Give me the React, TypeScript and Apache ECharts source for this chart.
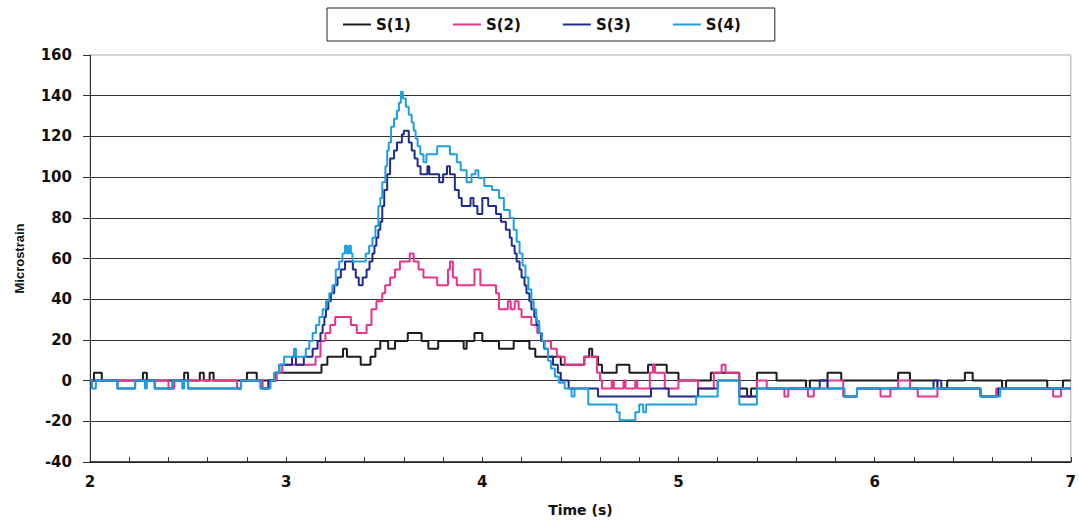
import React, { useEffect, useRef } from "react";
import * as echarts from "echarts";

// Time (s), microstrain — step readings
const S1: [number, number][] = [
  [2.0, 0], [2.02, 3.9], [2.06, 0], [2.27, 3.9], [2.29, 0], [2.48, 3.9], [2.5, 0], [2.56, 3.9], [2.58, 0],
  [2.61, 3.9], [2.63, 0], [2.8, 3.9], [2.85, 0], [2.95, 3.9], [3.18, 7.8], [3.21, 11.7], [3.29, 15.6],
  [3.31, 11.7], [3.38, 7.8], [3.43, 11.7], [3.455, 15.6], [3.48, 19.5], [3.52, 15.6], [3.555, 19.5],
  [3.62, 23.4], [3.69, 19.5], [3.725, 15.6], [3.775, 19.5], [3.905, 15.6], [3.92, 19.5], [3.96, 23.4],
  [4.0, 19.5], [4.085, 15.6], [4.16, 19.5], [4.24, 15.6], [4.27, 11.7], [4.4, 7.8], [4.52, 11.7],
  [4.545, 15.6], [4.56, 11.7], [4.59, 7.8], [4.61, 3.9], [4.685, 7.8], [4.75, 3.9], [4.845, 7.8],
  [4.94, 3.9], [5.0, 0], [5.165, 3.9], [5.31, -3.9], [5.35, -7.8], [5.37, -3.9], [5.4, 3.9], [5.5, 0],
  [5.65, -3.9], [5.67, 0], [5.76, 3.9], [5.83, 0], [6.12, 3.9], [6.18, 0], [6.32, -3.9], [6.37, 0],
  [6.46, 3.9], [6.5, 0], [6.65, -3.9], [6.67, 0], [6.88, -3.9], [6.96, 0], [7.0, 0],
];

const S2: [number, number][] = [
  [2.0, 0], [2.4, -3.9], [2.43, 0], [2.75, -3.9], [2.77, 0], [2.88, -3.9], [2.91, 0], [2.95, 3.9],
  [2.98, 7.8], [3.15, 11.7], [3.175, 19.5], [3.2, 23.4], [3.225, 27.3], [3.25, 31.2], [3.33, 27.3],
  [3.36, 23.4], [3.41, 27.3], [3.435, 35.1], [3.46, 39], [3.49, 42.9], [3.505, 46.8], [3.53, 50.7],
  [3.555, 54.6], [3.58, 58.5], [3.63, 62.4], [3.65, 58.5], [3.675, 54.6], [3.7, 50.7], [3.77, 46.8],
  [3.825, 54.6], [3.835, 58.5], [3.85, 50.7], [3.87, 46.8], [3.96, 54.6], [3.99, 46.8], [4.07, 42.9],
  [4.085, 35.1], [4.13, 39], [4.145, 35.1], [4.165, 39], [4.185, 35.1], [4.2, 31.2], [4.25, 27.3],
  [4.28, 23.4], [4.3, 19.5], [4.35, 15.6], [4.38, 11.7], [4.42, 7.8], [4.52, 11.7], [4.585, 3.9],
  [4.6, 0], [4.61, -3.9], [4.66, 0], [4.67, -3.9], [4.72, 0], [4.73, -3.9], [4.78, 0], [4.79, -3.9],
  [4.854, 3.9], [4.87, 7.8], [4.88, 3.9], [4.93, -3.9], [5.0, 0], [5.1, -3.9], [5.18, 3.9], [5.22, 7.8],
  [5.24, 3.9], [5.31, -7.8], [5.4, 0], [5.45, -3.9], [5.54, -7.8], [5.56, -3.9], [5.66, -7.8],
  [5.69, -3.9], [5.76, 0], [5.84, -7.8], [5.91, -3.9], [6.03, -7.8], [6.08, -3.9], [6.12, 0],
  [6.18, -3.9], [6.22, -7.8], [6.32, -3.9], [6.54, -7.8], [6.62, -3.9], [6.91, -7.8], [6.95, -3.9],
  [7.0, -3.9],
];

const S3: [number, number][] = [
  [2.0, 0], [2.14, -3.9], [2.23, 0], [2.33, -3.9], [2.42, 0], [2.5, -3.9], [2.77, 0], [2.87, -3.9],
  [2.91, 0], [2.94, 3.9], [2.965, 7.8], [3.03, 11.7], [3.05, 7.8], [3.09, 11.7], [3.135, 15.6],
  [3.16, 19.5], [3.175, 23.4], [3.186, 27.3], [3.195, 31.2], [3.203, 35.1], [3.215, 39], [3.228, 42.9],
  [3.245, 46.8], [3.262, 50.7], [3.279, 54.6], [3.3, 58.5], [3.34, 54.6], [3.355, 50.7], [3.37, 46.8],
  [3.39, 50.7], [3.41, 54.6], [3.425, 58.5], [3.44, 62.4], [3.45, 66.3], [3.46, 70.2], [3.47, 74.1],
  [3.48, 78], [3.49, 85.8], [3.5, 93.6], [3.515, 101.4], [3.53, 109.2], [3.55, 113.1], [3.565, 117],
  [3.59, 120.9], [3.6, 122.8], [3.625, 117], [3.64, 113.1], [3.655, 109.2], [3.67, 105.3],
  [3.685, 101.4], [3.72, 105.3], [3.73, 101.4], [3.78, 97.5], [3.8, 101.4], [3.82, 105.3],
  [3.835, 101.4], [3.86, 93.6], [3.88, 89.7], [3.895, 85.8], [3.94, 89.7], [3.955, 85.8],
  [3.975, 81.9], [4.0, 89.7], [4.03, 85.8], [4.07, 81.9], [4.095, 78], [4.12, 74.1], [4.14, 70.2],
  [4.15, 66.3], [4.165, 62.4], [4.175, 58.5], [4.19, 54.6], [4.2, 50.7], [4.215, 46.8], [4.225, 42.9],
  [4.24, 39], [4.25, 35.1], [4.265, 31.2], [4.276, 27.3], [4.29, 23.4], [4.3, 19.5], [4.315, 15.6],
  [4.335, 11.7], [4.36, 7.8], [4.385, 3.9], [4.4, 0], [4.44, -3.9], [4.59, -7.8], [4.86, -3.9],
  [4.95, -7.8], [5.1, -3.9], [5.2, 0], [5.31, -7.8], [5.4, -3.9], [5.72, 0], [5.76, -3.9],
  [5.845, -7.8], [5.91, -3.9], [6.3, 0], [6.34, -3.9], [6.54, -7.8], [6.63, -3.9], [7.0, -3.9],
];

const S4: [number, number][] = [
  [2.0, 0], [2.01, -3.9], [2.03, 0], [2.14, -3.9], [2.23, 0], [2.28, -3.9], [2.29, 0], [2.33, -3.9],
  [2.42, 0], [2.47, -3.9], [2.48, 0], [2.5, -3.9], [2.77, 0], [2.87, -3.9], [2.92, 0], [2.94, 3.9],
  [2.965, 7.8], [2.99, 11.7], [3.04, 15.6], [3.05, 11.7], [3.1, 15.6], [3.118, 19.5], [3.135, 23.4],
  [3.152, 27.3], [3.169, 31.2], [3.186, 35.1], [3.203, 39], [3.22, 42.9], [3.236, 46.8], [3.253, 54.6],
  [3.27, 58.5], [3.287, 62.4], [3.3, 66.3], [3.31, 62.4], [3.32, 66.3], [3.33, 62.4], [3.338, 58.5],
  [3.406, 62.4], [3.423, 66.3], [3.44, 70.2], [3.455, 76], [3.47, 85.8], [3.48, 89.7], [3.49, 97.5],
  [3.506, 105.3], [3.515, 113.1], [3.523, 117], [3.535, 124.8], [3.55, 128.7], [3.565, 132.6],
  [3.575, 136.5], [3.585, 142], [3.595, 138.6], [3.61, 134.6], [3.625, 130.7], [3.64, 126.8],
  [3.65, 122.9], [3.66, 119], [3.67, 115.1], [3.684, 111.2], [3.7, 107.3], [3.715, 111.2],
  [3.77, 115.1], [3.835, 111.2], [3.87, 107.3], [3.89, 103.4], [3.92, 97.5], [3.945, 101.4],
  [3.965, 103.4], [3.98, 99.5], [4.01, 95.6], [4.05, 93.6], [4.085, 89.7], [4.11, 83.8], [4.14, 79.9],
  [4.16, 74.1], [4.175, 68.2], [4.19, 62.4], [4.205, 56.5], [4.22, 50.7], [4.235, 44.8], [4.25, 39],
  [4.262, 35.1], [4.275, 29.3], [4.29, 23.4], [4.305, 19.5], [4.318, 15.6], [4.335, 9.8], [4.35, 5.9],
  [4.37, 2], [4.39, -1], [4.42, -3.9], [4.455, -7.8], [4.47, -3.9], [4.54, -11.7], [4.685, -15.6],
  [4.7, -19.5], [4.78, -15.6], [4.8, -11.7], [4.82, -15.6], [4.835, -11.7], [5.09, -7.8], [5.2, 0],
  [5.31, -11.7], [5.4, -3.9], [5.845, -7.8], [5.91, -3.9], [6.54, -7.8], [6.64, -3.9], [7.0, -3.9],
];

const SERIES_NAMES = ["S(1)", "S(2)", "S(3)", "S(4)"];
const SERIES_DATA = [S1, S2, S3, S4];
const SERIES_COLORS = ["#1c1c1c", "#e6338c", "#1f2b8f", "#1ea0e0"];

const X_MIN = 2;
const X_MAX = 7;
const Y_MIN = -40;
const Y_MAX = 160;

export default function App() {
  const ref = useRef<HTMLDivElement>(null);

  useEffect(() => {
    if (!ref.current) return;
    const chart = echarts.init(ref.current, undefined, { renderer: "svg" });
    const labelFont = "DejaVu Sans";
    chart.setOption({
      animation: false,
      backgroundColor: "#ffffff",
      textStyle: { fontFamily: labelFont },
      grid: {
        left: 90,
        right: 5,
        top: 55,
        bottom: 61,
        show: true,
        borderColor: "#a8a8a8",
        borderWidth: 1,
        backgroundColor: "transparent",
      },
      legend: {
        left: 327,
        top: 8,
        orient: "horizontal",
        icon: "rect",
        itemWidth: 28,
        itemHeight: 2,
        itemGap: 42,
        padding: [9, 34, 9, 16],
        borderColor: "#222",
        borderWidth: 1,
        data: SERIES_NAMES,
        textStyle: { fontFamily: labelFont, fontWeight: "bold", fontSize: 15, color: "#111" },
      },
      xAxis: {
        type: "value",
        min: X_MIN,
        max: X_MAX,
        interval: 1,
        name: "Time (s)",
        nameLocation: "middle",
        nameGap: 41,
        nameTextStyle: { fontFamily: labelFont, fontWeight: "bold", fontSize: 14, color: "#111" },
        axisLine: { show: true, onZero: false, lineStyle: { color: "#222", width: 1.5 } },
        axisTick: { show: true, inside: true, length: 5, lineStyle: { color: "#333" } },
        minorTick: { show: true, splitNumber: 5, length: 5, lineStyle: { color: "#333" } },
        axisLabel: { fontFamily: labelFont, fontWeight: "bold", fontSize: 15, color: "#111", margin: 12 },
        splitLine: { show: false },
      },
      yAxis: {
        type: "value",
        min: Y_MIN,
        max: Y_MAX,
        interval: 20,
        name: "Microstrain",
        nameLocation: "middle",
        nameGap: 64,
        nameRotate: 90,
        nameTextStyle: { fontFamily: "Liberation Sans", fontWeight: "bold", fontSize: 13, color: "#111" },
        axisLine: { show: true, lineStyle: { color: "#333", width: 1 } },
        axisTick: { show: true, length: 7, lineStyle: { color: "#333" } },
        axisLabel: { fontFamily: labelFont, fontWeight: "bold", fontSize: 15, color: "#111", margin: 18 },
        splitLine: { show: true, showMaxLine: false, lineStyle: { color: "#333", width: 1 } },
      },
      series: SERIES_NAMES.map((name, i) => ({
        name,
        type: "line",
        step: "end",
        symbol: "none",
        showSymbol: false,
        data: SERIES_DATA[i],
        lineStyle: { color: SERIES_COLORS[i], width: 2 },
        itemStyle: { color: SERIES_COLORS[i] },
        emphasis: { disabled: true },
      })),
    });
    return () => chart.dispose();
  }, []);

  return (
    <div
      ref={ref}
      style={{ position: "absolute", left: 0, top: 0, width: 1079, height: 523 }}
    />
  );
}
